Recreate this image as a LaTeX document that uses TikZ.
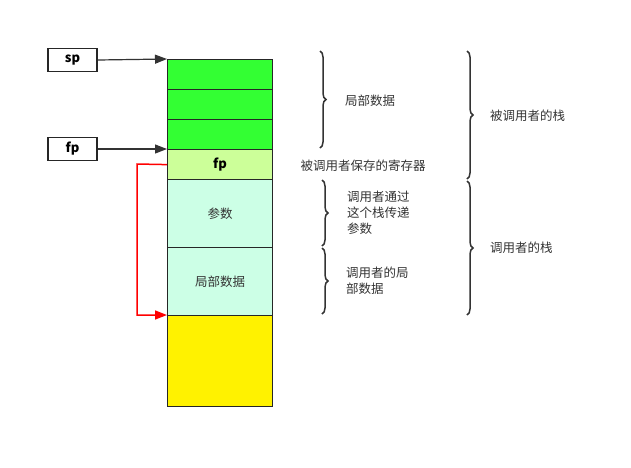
\documentclass[tikz,border=0pt]{standalone}
\usepackage{fontspec}
\setmainfont{Noto Sans CJK SC}
\usepackage{xcolor}
\usepackage{tikz}
\usetikzlibrary{arrows.meta,positioning,calc,decorations.pathreplacing}

\definecolor{topgreen}{HTML}{33FF33}
\definecolor{fpgreen}{HTML}{CCFF99}
\definecolor{mint}{HTML}{CCFFE6}

\tikzset{
  cell/.style={draw=black!85, line width=1.2pt, minimum width=105pt, inner sep=0pt, anchor=north west},
  regbox/.style={draw=black!85, line width=1.5pt, minimum width=49pt, minimum height=23pt, inner sep=0pt, font=\bfseries\fontsize{13}{15}\selectfont},
  ptr/.style={-{Triangle[length=12pt,width=9pt]}, draw=black!80, line width=1.2pt},
  brc/.style={decorate, decoration={brace, amplitude=6pt}, draw=black!80, line width=1.5pt},
  note/.style={font=\fontsize{12.5}{16}\selectfont, text=black!80, align=left}
}

\begin{document}
\begin{tikzpicture}[x=1pt, y=-1pt]
\useasboundingbox (0,0) rectangle (631,467);

% Stack cells
\node[cell, fill=topgreen, minimum height=30pt] (c1) at (167,59) {};
\node[cell, fill=topgreen, minimum height=30pt] (c2) at (167,89) {};
\node[cell, fill=topgreen, minimum height=30pt] (c3) at (167,119) {};
\node[cell, fill=fpgreen, minimum height=30pt, font=\bfseries\fontsize{13}{15}\selectfont] (c4) at (167,149) {fp};
\node[cell, fill=mint, minimum height=68pt, font=\fontsize{12.5}{15}\selectfont, text=black!80] (c5) at (167,179) {参数};
\node[cell, fill=mint, minimum height=68pt, font=\fontsize{12.5}{15}\selectfont, text=black!80] (c6) at (167,247) {局部数据};
\node[cell, fill=yellow, minimum height=91pt] (c7) at (167,315) {};

% Registers
\node[regbox] (sp) at (72.5,60) {sp};
\node[regbox] (fp) at (72.5,149) {fp};
\draw[ptr] (sp.east) -- (c1.north west);
\draw[ptr] (fp.east) -- (c4.north west);

% Saved fp link
\coordinate (bend) at (137,164);
\draw[red, line width=1.5pt, -{Triangle[length=12pt,width=9pt]}] (c4.west) -- (bend) |- (c7.north west);

% Braces
\coordinate (b1a) at (320,51);  \coordinate (b1b) at (320,148);
\coordinate (b2a) at (322,180); \coordinate (b2b) at (322,246);
\coordinate (b3a) at (322,248); \coordinate (b3b) at (322,314);
\coordinate (b4a) at (467,51);  \coordinate (b4b) at (467,179);
\coordinate (b5a) at (467,181); \coordinate (b5b) at (467,315);
\draw[brc] (b1a) -- (b1b);
\draw[brc] (b2a) -- (b2b);
\draw[brc] (b3a) -- (b3b);
\draw[brc] (b4a) -- (b4b);
\draw[brc] (b5a) -- (b5b);

% Labels
\node[note, anchor=west, inner sep=0pt] (l1) at (345,101) {局部数据};
\node[note, anchor=center] (l2) at (363,166) {被调用者保存的寄存器};
\node[note, anchor=west, inner sep=0pt] (l3) at (347,213) {调用者通过\\这个栈传递\\参数};
\node[note, anchor=west, inner sep=0pt] (l4) at (346,281) {调用者的局\\部数据};
\node[note, anchor=west, inner sep=0pt] (l5) at (490,116) {被调用者的栈};
\node[note, anchor=west, inner sep=0pt] (l6) at (490,248) {调用者的栈};
\end{tikzpicture}
\end{document}
